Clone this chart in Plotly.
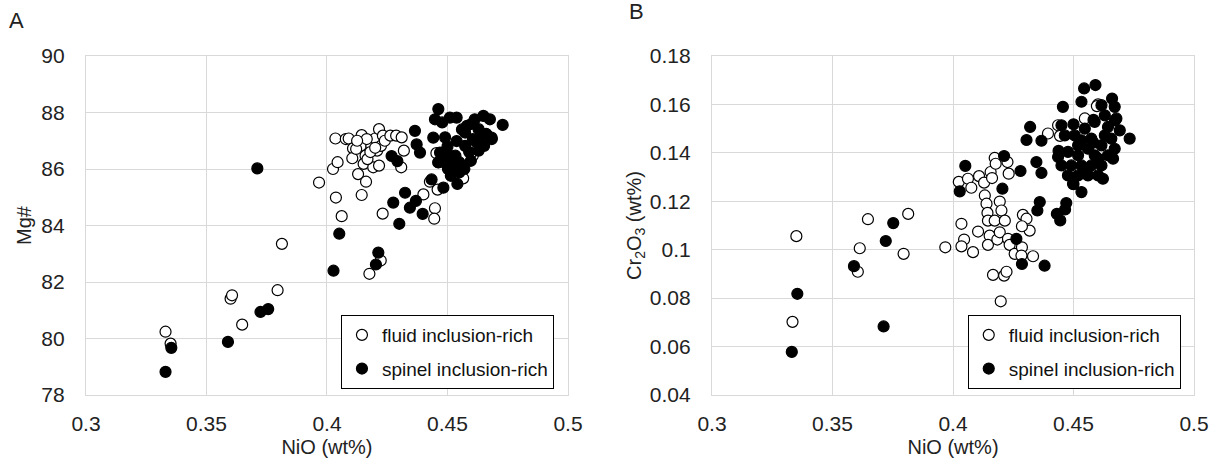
import plotly.graph_objects as go

# ---------------- Panel A: NiO vs Mg# ----------------
A_FLUID_NIO = [
    0.3330, 0.3351, 0.3600, 0.3606, 0.3648, 0.3795, 0.3813, 0.3967, 0.4025, 0.4037,
    0.4044, 0.4061, 0.4035, 0.4078, 0.4090, 0.4108, 0.4105, 0.4129, 0.4144, 0.4140,
    0.4144, 0.4160, 0.4162, 0.4152, 0.4184, 0.4192, 0.4208, 0.4200, 0.4216, 0.4224,
    0.4216, 0.4232, 0.4240, 0.4231, 0.4223, 0.4176, 0.4263, 0.4287, 0.4308, 0.4319,
    0.4310, 0.4400, 0.4427, 0.4448, 0.4445, 0.4459, 0.4454, 0.4557, 0.4565, 0.4605,
    0.4597, 0.4168, 0.4121, 0.4165, 0.4462, 0.4180, 0.4200, 0.4125]
A_FLUID_MG = [
    80.24, 79.82, 81.41, 81.53, 80.49, 81.71, 83.35, 85.52, 86.00, 84.99,
    86.24, 84.33, 87.08, 87.06, 87.08, 86.73, 86.38, 85.82, 87.20, 86.82,
    85.08, 86.47, 85.55, 86.18, 86.82, 86.06, 86.65, 87.08, 87.41, 86.82,
    86.12, 87.18, 87.00, 84.42, 82.76, 82.29, 87.18, 87.18, 86.06, 86.65,
    87.12, 85.10, 85.55, 84.61, 84.24, 85.27, 86.56, 86.00, 85.67, 86.47,
    86.56, 86.35, 86.71, 87.06, 86.24, 86.60, 86.75, 87.00]

A_SPINEL_NIO = [
    0.3330, 0.3354, 0.3589, 0.3711, 0.3724, 0.3756, 0.4027, 0.4051, 0.4203, 0.4213,
    0.4275, 0.4300, 0.4324, 0.4344, 0.4369, 0.4397, 0.4434, 0.4483, 0.4268, 0.4292,
    0.4365, 0.4372, 0.4386, 0.4462, 0.4448, 0.4538, 0.4649, 0.4729, 0.4441, 0.4490,
    0.4538, 0.4662, 0.4683, 0.4469, 0.4462, 0.4478, 0.4510, 0.4581, 0.4613, 0.4629,
    0.4676, 0.4684, 0.4652, 0.4637, 0.4605, 0.4597, 0.4565, 0.4533, 0.4510, 0.4502,
    0.4514, 0.4541, 0.4549, 0.4573, 0.4573, 0.4629, 0.4660, 0.4486, 0.4525, 0.4549,
    0.4590, 0.4620, 0.4600, 0.4560, 0.4500, 0.4530, 0.4570]
A_SPINEL_MG = [
    78.82, 79.67, 79.88, 86.02, 80.94, 81.04, 82.40, 83.71, 82.62, 83.04,
    84.81, 84.06, 85.16, 84.63, 84.87, 84.41, 85.63, 85.34, 86.46, 86.28,
    87.35, 86.87, 86.58, 88.12, 87.76, 87.82, 87.88, 87.56, 87.11, 87.12,
    86.99, 87.23, 87.11, 86.58, 86.23, 87.65, 87.82, 87.53, 87.76, 87.41,
    87.76, 87.06, 86.82, 87.18, 87.06, 86.29, 86.12, 86.47, 86.47, 86.00,
    85.76, 85.47, 86.24, 86.82, 87.29, 86.65, 87.24, 86.24, 86.06, 85.88,
    86.60, 86.95, 87.60, 87.40, 86.80, 86.20, 86.00]

# ---------------- Panel B: NiO vs Cr2O3 ----------------
B_FLUID_NIO = [
    0.3350, 0.3334, 0.3605, 0.3613, 0.3647, 0.3795, 0.3814, 0.3968, 0.4035, 0.4046,
    0.4035, 0.4083, 0.4104, 0.4024, 0.4062, 0.4076, 0.4108, 0.4129, 0.4156, 0.4162,
    0.4173, 0.4177, 0.4226, 0.4231, 0.4132, 0.4139, 0.4143, 0.4145, 0.4173, 0.4194,
    0.4201, 0.4215, 0.4152, 0.4145, 0.4184, 0.4194, 0.4228, 0.4235, 0.4256, 0.4286,
    0.4290, 0.4305, 0.4318, 0.4286, 0.4332, 0.4284, 0.4166, 0.4212, 0.4222, 0.4198,
    0.4394, 0.4444, 0.4547, 0.4602, 0.4436, 0.4597]
B_FLUID_CR = [
    0.1056, 0.0702, 0.0909, 0.1006, 0.1126, 0.0983, 0.1148, 0.1010, 0.1107, 0.1042,
    0.1014, 0.0990, 0.1075, 0.1280, 0.1293, 0.1256, 0.1304, 0.1277, 0.1321, 0.1296,
    0.1379, 0.1355, 0.1362, 0.1314, 0.1224, 0.1190, 0.1152, 0.1120, 0.1120, 0.1199,
    0.1162, 0.1120, 0.1058, 0.1020, 0.1042, 0.1072, 0.1045, 0.1020, 0.0983, 0.1010,
    0.1144, 0.1128, 0.1079, 0.1097, 0.0973, 0.0976, 0.0896, 0.0893, 0.0909, 0.0787,
    0.1480, 0.1470, 0.1542, 0.1600, 0.1514, 0.1593]

B_SPINEL_NIO = [
    0.3354, 0.3331, 0.3712, 0.3589, 0.3721, 0.3752, 0.4263, 0.4286, 0.4380, 0.4051,
    0.4028, 0.4212, 0.4205, 0.4280, 0.4346, 0.4367, 0.4360, 0.4350, 0.4470, 0.4465,
    0.4431, 0.4445, 0.4320, 0.4305, 0.4367, 0.4544, 0.4591, 0.4533, 0.4456, 0.4660,
    0.4671, 0.4616, 0.4630, 0.4678, 0.4692, 0.4733, 0.4533, 0.4498, 0.4602, 0.4622,
    0.4450, 0.4436, 0.4464, 0.4505, 0.4547, 0.4588, 0.4643, 0.4657, 0.4616, 0.4643,
    0.4602, 0.4560, 0.4519, 0.4477, 0.4450, 0.4491, 0.4533, 0.4574, 0.4616, 0.4477,
    0.4519, 0.4560, 0.4519, 0.4588, 0.4574, 0.4533, 0.4630, 0.4671, 0.4664, 0.4500,
    0.4583, 0.4672, 0.4500, 0.4555, 0.4438, 0.4583]
B_SPINEL_CR = [
    0.0818, 0.0578, 0.0683, 0.0932, 0.1036, 0.1110, 0.1045, 0.0941, 0.0934, 0.1346,
    0.1241, 0.1387, 0.1252, 0.1325, 0.1362, 0.1317, 0.1197, 0.1162, 0.1193, 0.1166,
    0.1148, 0.1121, 0.1507, 0.1453, 0.1450, 0.1666, 0.1680, 0.1611, 0.1590, 0.1624,
    0.1590, 0.1597, 0.1555, 0.1542, 0.1493, 0.1459, 0.1238, 0.1272, 0.1307, 0.1293,
    0.1514, 0.1383, 0.1472, 0.1472, 0.1500, 0.1528, 0.1507, 0.1459, 0.1431, 0.1390,
    0.1376, 0.1417, 0.1431, 0.1404, 0.1348, 0.1348, 0.1348, 0.1348, 0.1348, 0.1307,
    0.1307, 0.1307, 0.1390, 0.1390, 0.1459, 0.1452, 0.1472, 0.1417, 0.1376, 0.1518,
    0.1536, 0.1534, 0.1271, 0.1319, 0.1408, 0.1442]

X_TICKS = [0.3, 0.35, 0.4, 0.45, 0.5]
X_TICK_LABELS = ["0.3", "0.35", "0.4", "0.45", "0.5"]
A_Y_TICKS = [78, 80, 82, 84, 86, 88, 90]
B_Y_TICKS = [0.04, 0.06, 0.08, 0.1, 0.12, 0.14, 0.16, 0.18]
B_Y_TICK_LABELS = ["0.04", "0.06", "0.08", "0.1", "0.12", "0.14", "0.16", "0.18"]

FONT = "Liberation Sans, Arial, sans-serif"
GRID = "#d9d9d9"

open_marker = dict(symbol="circle", size=11, color="white", line=dict(color="black", width=1.2))
fill_marker = dict(symbol="circle", size=11, color="black", line=dict(color="black", width=1.2))

fig = go.Figure()
fig.add_trace(go.Scatter(x=A_FLUID_NIO, y=A_FLUID_MG, mode="markers", marker=open_marker,
                         name="fluid inclusion-rich", xaxis="x", yaxis="y",
                         legend="legend", legendgroup="a1"))
fig.add_trace(go.Scatter(x=A_SPINEL_NIO, y=A_SPINEL_MG, mode="markers", marker=fill_marker,
                         name="spinel inclusion-rich", xaxis="x", yaxis="y",
                         legend="legend", legendgroup="a2"))
fig.add_trace(go.Scatter(x=B_FLUID_NIO, y=B_FLUID_CR, mode="markers", marker=open_marker,
                         name="fluid inclusion-rich", xaxis="x2", yaxis="y2",
                         legend="legend2", legendgroup="b1"))
fig.add_trace(go.Scatter(x=B_SPINEL_NIO, y=B_SPINEL_CR, mode="markers", marker=fill_marker,
                         name="spinel inclusion-rich", xaxis="x2", yaxis="y2",
                         legend="legend2", legendgroup="b2"))

axis_common = dict(showgrid=True, gridcolor=GRID, gridwidth=1.3, showline=True,
                   linecolor=GRID, linewidth=1.3, mirror=True, zeroline=False,
                   ticks="", tickfont=dict(family=FONT, size=21, color="#222"),
                   title_font=dict(family=FONT, size=20, color="#222"))

legend_common = dict(bgcolor="white", bordercolor="black", borderwidth=1,
                     font=dict(family=FONT, size=19, color="#111"),
                     tracegroupgap=6, itemwidth=30, xanchor="left", yanchor="top")

fig.update_layout(
    width=1221, height=471,
    margin=dict(l=86, r=27, t=56, b=76),
    paper_bgcolor="white", plot_bgcolor="white",
    showlegend=True,
    xaxis=dict(domain=[0, 0.435], range=[0.3, 0.5], tickvals=X_TICKS, ticktext=X_TICK_LABELS,
               title=dict(text="NiO (wt%)", standoff=5), ticklabelstandoff=10, anchor="y", **axis_common),
    yaxis=dict(range=[78, 90], tickvals=A_Y_TICKS, title=dict(text="Mg#", standoff=4),
               ticklabelstandoff=16, anchor="x", **axis_common),
    xaxis2=dict(domain=[0.565, 1], range=[0.3, 0.5], tickvals=X_TICKS, ticktext=X_TICK_LABELS,
                title=dict(text="NiO (wt%)", standoff=5), ticklabelstandoff=10, anchor="y2", **axis_common),
    yaxis2=dict(range=[0.04, 0.18], tickvals=B_Y_TICKS, ticktext=B_Y_TICK_LABELS,
                title=dict(text="Cr<sub>2</sub>O<sub>3</sub> (wt%)", standoff=2),
                ticklabelstandoff=16, anchor="x2", **axis_common),
    legend=dict(x=0.2301, y=0.236, **legend_common),
    legend2=dict(x=0.7958, y=0.236, **legend_common),
    annotations=[
        dict(text="A", x=-0.0623, y=1.106, xref="paper", yref="paper", showarrow=False,
             xanchor="center", yanchor="middle", font=dict(family=FONT, size=22, color="#222")),
        dict(text="B", x=0.4964, y=1.13, xref="paper", yref="paper", showarrow=False,
             xanchor="center", yanchor="middle", font=dict(family=FONT, size=22, color="#222")),
    ],
)

fig.write_html("out.html")
